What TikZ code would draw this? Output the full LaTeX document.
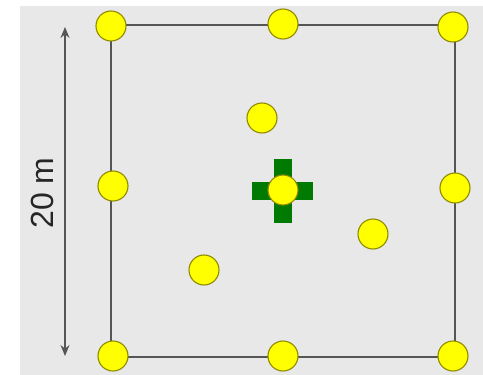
\documentclass[tikz,border=0pt]{standalone}
\usepackage{fontspec}
\setmainfont{Liberation Sans}
\usetikzlibrary{arrows.meta}
\definecolor{bg}{HTML}{E8E8E8}
\definecolor{dotfill}{HTML}{FFFF00}
\definecolor{dotline}{HTML}{8F8A00}
\definecolor{crossgreen}{HTML}{007A00}
\definecolor{edge}{HTML}{555555}
\tikzset{
  dot/.style={circle, draw=dotline, line width=1.1pt, fill=dotfill, minimum size=30pt, inner sep=0pt},
  edgeline/.style={draw=edge, line width=1.2pt},
  dim/.style={draw=edge, line width=1.4pt, -{Stealth[length=11pt,width=9pt]}},
}
\begin{document}
\begin{tikzpicture}[x=1pt,y=-1pt]
\useasboundingbox (0,0) rectangle (483,375);
\fill[bg] (20,6) rectangle (483,375);
% square corners
\coordinate (tl) at (111,25);
\coordinate (tr) at (455,25);
\coordinate (bl) at (111,357);
\coordinate (br) at (455,357);
\draw[edgeline] (tl) -- (tr) -- (br) -- (bl) -- cycle;
% dimension arrow
\coordinate (at) at (65,27);
\coordinate (ab) at (65,356);
\coordinate (am) at (65,190);
\draw[dim] (am) -- (at);
\draw[dim] (am) -- (ab);
\node[rotate=90, font=\fontsize{32}{36}\selectfont, text=black!85, inner sep=0pt] (lbl) at (42,193) {20 m};
% green cross
\fill[crossgreen] (252,182) rectangle (313,200);
\fill[crossgreen] (274,159) rectangle (292,223);
% dots
\node[dot] (d1) at (111,26) {};
\node[dot] (d2) at (283,24) {};
\node[dot] (d3) at (453,27) {};
\node[dot] (d4) at (113,186) {};
\node[dot] (d5) at (283,190) {};
\node[dot] (d6) at (455,188) {};
\node[dot] (d7) at (113,356) {};
\node[dot] (d8) at (283,356) {};
\node[dot] (d9) at (453,356) {};
\node[dot] (d10) at (262,118) {};
\node[dot] (d11) at (373,234) {};
\node[dot] (d12) at (204,270) {};
\end{tikzpicture}
\end{document}
